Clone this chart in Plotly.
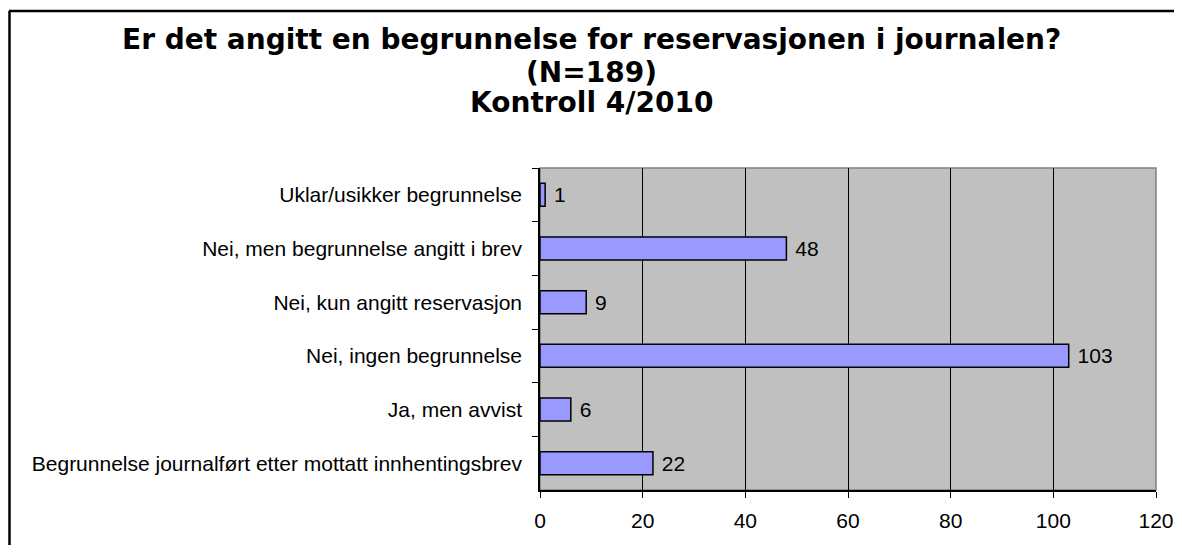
import plotly.graph_objects as go

categories = [
    "Uklar/usikker begrunnelse",
    "Nei, men begrunnelse angitt i brev",
    "Nei, kun angitt reservasjon",
    "Nei, ingen begrunnelse",
    "Ja, men avvist",
    "Begrunnelse journalført etter mottatt innhentingsbrev",
]
values = [1, 48, 9, 103, 6, 22]
title_lines = [
    "Er det angitt en begrunnelse for reservasjonen i journalen?",
    "(N=189)",
    "Kontroll 4/2010",
]
x_ticks = [0, 20, 40, 60, 80, 100, 120]

OFF = 8  # page body margin
W, H = 1166, 537
# plot area in screen pixels: x 540..1156, y 168..490
L = 540 - OFF
T = 168 - OFF
R = W - (1156 - OFF)
B = H - (490 - OFF)
pw, ph = W - L - R, H - T - B

def py(ys):  # screen y -> paper y
    return (H - B - (ys - OFF)) / ph

def px(xs):  # screen x -> paper x
    return ((xs - OFF) - L) / pw

FONT = "Liberation Sans, Arial"

fig = go.Figure(go.Bar(
    x=values, y=categories, orientation="h",
    marker=dict(color="#9999FF", line=dict(color="black", width=1.5)),
    texttemplate="\u00a0%{x}", textposition="outside",
    textfont=dict(family=FONT, size=21, color="black"),
    cliponaxis=False, width=0.43,
))

annotations = []
for ys, line in zip([40, 72, 103], title_lines):
    annotations.append(dict(
        text="<b>" + line + "</b>", x=px(591), y=py(ys),
        xref="paper", yref="paper", xanchor="center", yanchor="middle",
        showarrow=False, font=dict(family="DejaVu Sans", size=28, color="black"),
    ))

fig.update_layout(
    width=W, height=H,
    margin=dict(l=L, r=R, t=T, b=B, pad=0, autoexpand=False),
    paper_bgcolor="white", plot_bgcolor="#C0C0C0",
    showlegend=False,
    annotations=annotations,
    font=dict(family=FONT, size=21, color="black"),
    shapes=[
        # outer chart frame (top and left edges visible in the window)
        dict(type="line", xref="paper", yref="paper",
             x0=px(9), x1=px(1200), y0=py(11), y1=py(11),
             line=dict(color="black", width=2.5), layer="below"),
        dict(type="line", xref="paper", yref="paper",
             x0=px(9.5), x1=px(9.5), y0=py(11), y1=py(600),
             line=dict(color="black", width=2.5), layer="below"),
        # plot-area border
        dict(type="rect", xref="paper", yref="paper", x0=0, x1=1, y0=0, y1=1,
             line=dict(color="#808080", width=1.5), fillcolor="rgba(0,0,0,0)", layer="below"),
    ],
)
fig.update_xaxes(
    automargin=False, ticklabeloverflow="allow",
    range=[0, 120], tickvals=x_ticks, ticks="outside", ticklen=6, tickcolor="black",
    showgrid=True, gridcolor="black", gridwidth=1, zeroline=False,
    showline=True, linecolor="black", linewidth=1.5, ticklabelstandoff=5,
    tickfont=dict(family=FONT, size=21), fixedrange=True,
)
fig.update_yaxes(
    automargin=False, ticklabeloverflow="allow",
    autorange="reversed", tickson="boundaries", ticks="outside", ticklen=6, tickcolor="black",
    showgrid=False, showline=True, linecolor="black", linewidth=1.5,
    ticklabelstandoff=12, tickfont=dict(family=FONT, size=21), fixedrange=True,
)
fig.write_html("out.html", config={"displayModeBar": False})
